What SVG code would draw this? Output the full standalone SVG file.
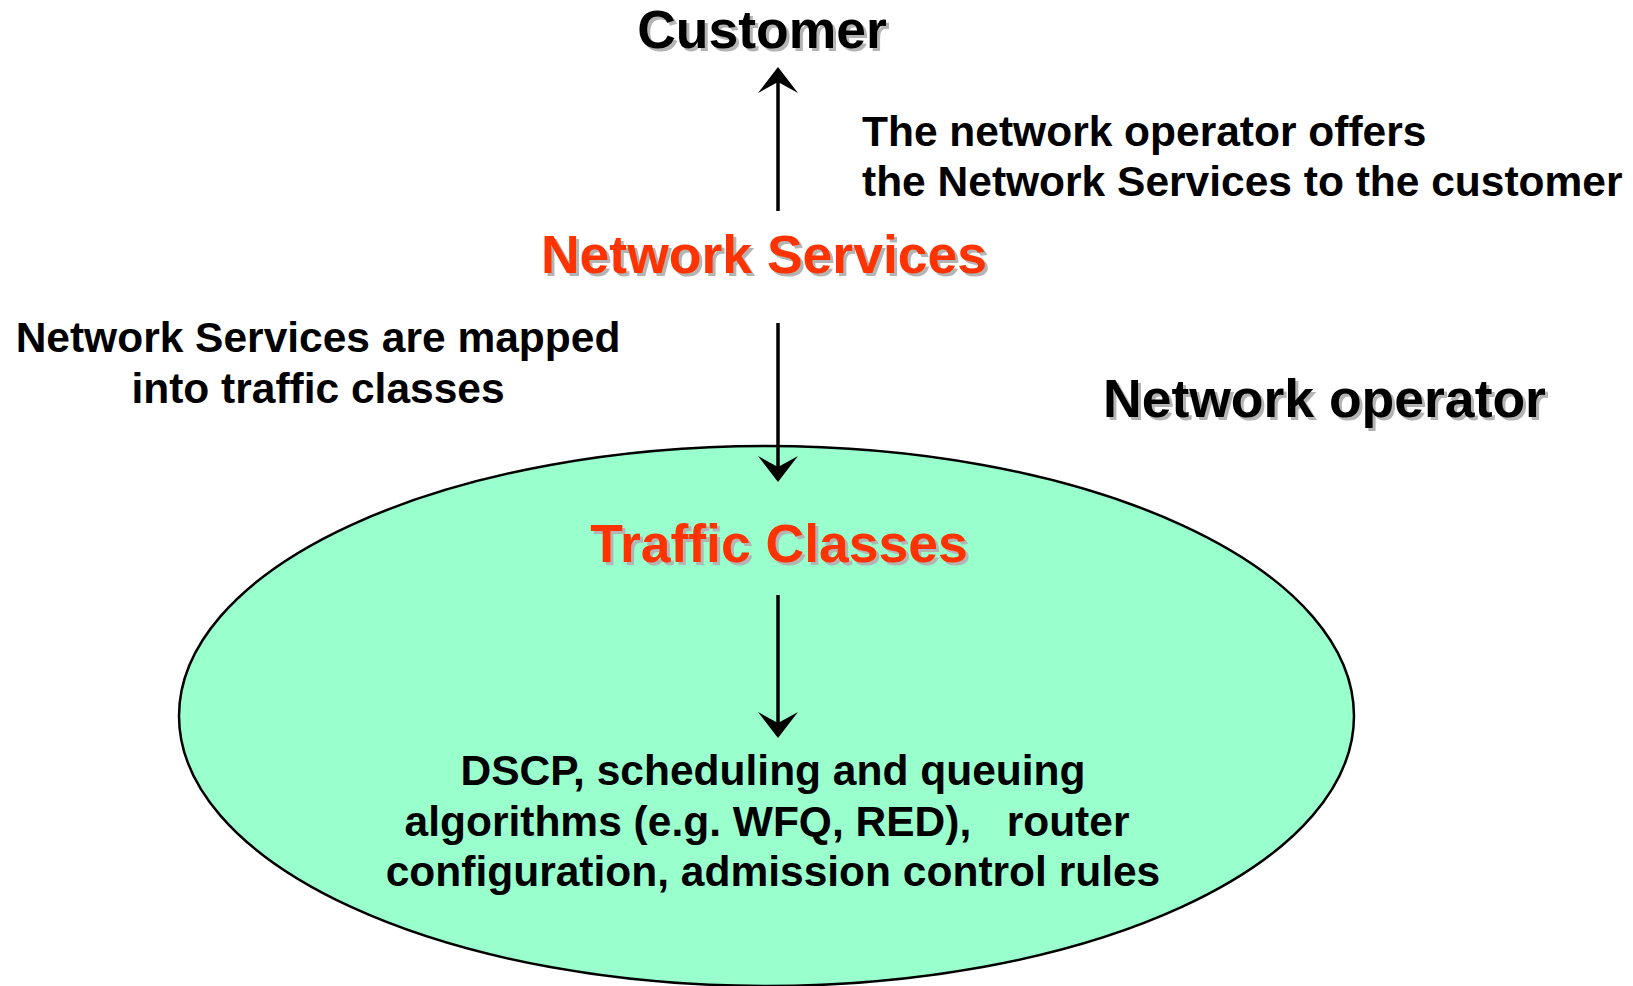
<svg xmlns="http://www.w3.org/2000/svg" width="1633" height="986" viewBox="0 0 1633 986">
<style>
.big{font-family:"Liberation Sans",Arial,sans-serif;font-weight:bold;font-size:53.5px}
.sm{font-family:"Liberation Sans",Arial,sans-serif;font-weight:bold;font-size:42.5px;fill:#000}
.sh{fill:#B4B4B4}
.red{fill:#FF3300}
.blk{fill:#000}
.conn{stroke:#000;stroke-width:3.5;fill:none}
</style>
<defs>
<marker id="ah" viewBox="0 -21 27 42" refX="20" refY="0" markerWidth="27" markerHeight="42" markerUnits="userSpaceOnUse" orient="auto">
<path d="M0,-20 L26,0 L0,20 L11,0 Z" fill="#000"/>
</marker>
</defs>
<rect width="1633" height="986" fill="#fff"/>
<g id="operator-domain">
<ellipse cx="766.5" cy="716" rx="587.5" ry="270" fill="#99FFCC" stroke="#000" stroke-width="2.5"/>
</g>
<g id="customer">
<text class="big sh" x="765" y="51" text-anchor="middle">Customer</text>
<text class="big blk" x="762" y="48" text-anchor="middle">Customer</text>
</g>
<g id="offer-label">
<text class="sm" x="862" y="146">The network operator offers</text>
<text class="sm" x="862" y="196">the Network Services to the customer</text>
</g>
<g id="network-services">
<text class="big sh" x="767" y="276" text-anchor="middle">Network Services</text>
<text class="big red" x="764" y="273" text-anchor="middle">Network Services</text>
</g>
<g id="mapping-label">
<text class="sm" x="318" y="352" text-anchor="middle">Network Services are mapped</text>
<text class="sm" x="318" y="403" text-anchor="middle">into traffic classes</text>
</g>
<g id="network-operator">
<text class="big sh" x="1106" y="420">Network operator</text>
<text class="big blk" x="1103" y="417">Network operator</text>
</g>
<g id="traffic-classes">
<text class="big sh" x="782" y="565" text-anchor="middle">Traffic Classes</text>
<text class="big red" x="779" y="562" text-anchor="middle">Traffic Classes</text>
</g>
<g id="mechanisms">
<text class="sm" x="773" y="785" text-anchor="middle">DSCP, scheduling and queuing</text>
<text class="sm" x="767" y="836" text-anchor="middle" style="white-space:pre">algorithms (e.g. WFQ, RED),   router</text>
<text class="sm" x="773" y="886" text-anchor="middle">configuration, admission control rules</text>
</g>
<g id="connectors">
<line class="conn" x1="778" y1="211" x2="778" y2="73" marker-end="url(#ah)"/>
<line class="conn" x1="778" y1="323" x2="778" y2="476" marker-end="url(#ah)"/>
<line class="conn" x1="778" y1="595" x2="778" y2="732" marker-end="url(#ah)"/>
</g>
</svg>
